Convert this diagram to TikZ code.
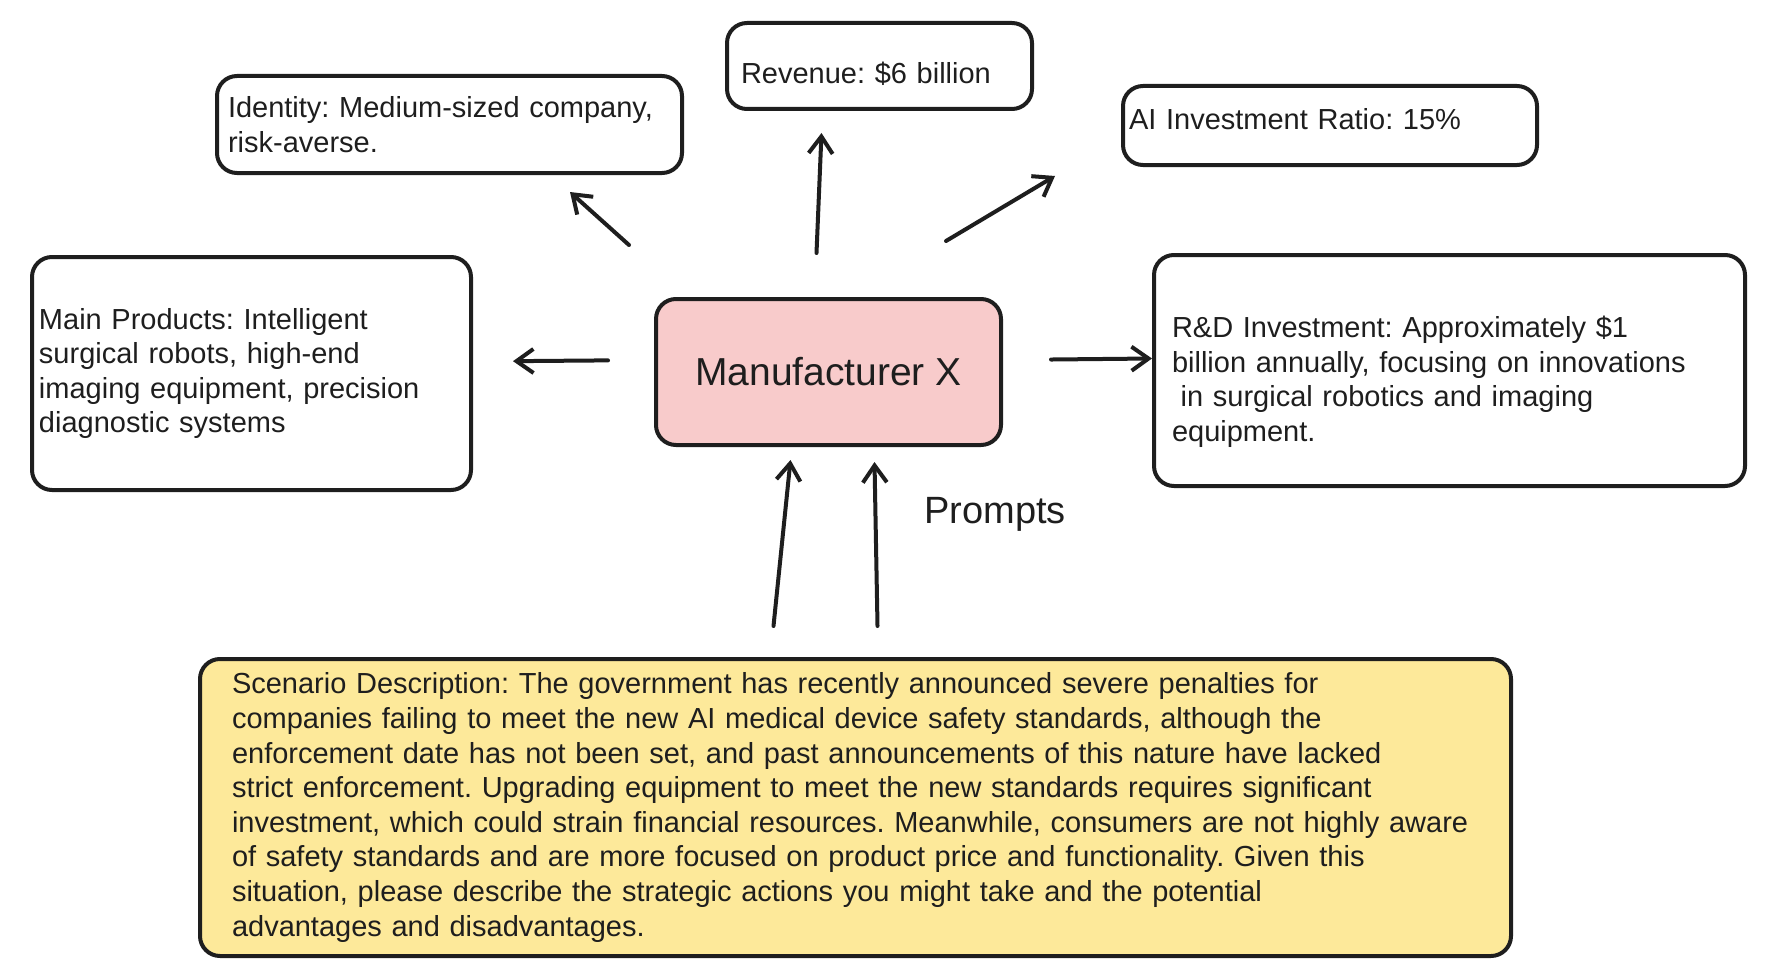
\documentclass[tikz,border=0pt]{standalone}
\usepackage{fontspec}
\setmainfont{Liberation Sans}
\usetikzlibrary{arrows.meta, positioning}
\definecolor{inkgray}{HTML}{1E1E1E}
\definecolor{hubpink}{HTML}{F8CBCB}
\definecolor{scenefill}{HTML}{FDE99A}
\frenchspacing

\begin{document}
\begin{tikzpicture}[x=0.5pt, y=-0.5pt,
  card/.style={draw=inkgray, line width=2pt, rounded corners=10pt,
    align=left, text=inkgray, font=\fontsize{14.5}{17.3}\selectfont},
  hub/.style={card, fill=hubpink, align=center,
    font=\fontsize{19.5}{23}\selectfont},
  scene/.style={card, fill=scenefill},
  link/.style={draw=inkgray, line width=2pt, line cap=round,
    -{Straight Barb[length=8.5pt, width=12pt]}}]
  \useasboundingbox (0,0) rectangle (1788,963);
  \node[hub, minimum width=172.5pt, minimum height=73pt] (maker) at (828.5,372) {Manufacturer X};
  \node[card, minimum width=232.5pt, minimum height=48.5pt, inner xsep=5.5pt, text width=221.5pt] (identity) at (449.5,124.5)
    {Identity: Medium-sized company,\\risk-averse.};
  \node[card, minimum width=152.5pt, minimum height=43pt, inner xsep=7pt, text width=138.5pt,
    text height=21pt, text depth=3pt] (revenue) at (879.5,66)
    {Revenue: \$6 billion};
  \node[card, minimum width=207pt, minimum height=39.5pt, inner xsep=3pt, text width=201pt,
    text height=10.5pt, text depth=6.6pt] (ratio) at (1330,125.5)
    {AI Investment Ratio: 15\%};
  \node[card, minimum width=219.5pt, minimum height=116.5pt, inner xsep=3.5pt, text width=212.5pt] (products) at (251.5,373.5)
    {Main Products: Intelligent\\surgical robots, high-end\\imaging equipment, precision\\diagnostic systems};
  \node[card, minimum width=295.5pt, minimum height=115.5pt, inner xsep=9pt, text width=277.5pt] (rnd) at (1449.5,370.5)
    {\rule{0pt}{22pt}R\&D Investment: Approximately \$1\\billion annually, focusing on innovations\\\hspace*{0.3em}in surgical robotics and imaging\\equipment.};
  \node[scene, minimum width=655.5pt, minimum height=148.5pt, inner xsep=16pt, text width=623.5pt] (scenario) at (855.5,807.5)
    {Scenario Description: The government has recently announced severe penalties for\\
     companies failing to meet the new AI medical device safety standards, although the\\
     enforcement date has not been set, and past announcements of this nature have lacked\\
     strict enforcement. Upgrading equipment to meet the new standards requires significant\\
     investment, which could strain financial resources. Meanwhile, consumers are not highly aware\\
     of safety standards and are more focused on product price and functionality. Given this\\
     situation, please describe the strategic actions you might take and the potential\\
     advantages and disadvantages.};
  \node[text=inkgray, font=\fontsize{19}{22}\selectfont] (prompts) at (995,514) {Prompts};
  \draw[link] ([yshift=6pt]maker.west) -- ([yshift=6pt]products.east)
    [shorten <=23pt, shorten >=20pt];
  \draw[link, shorten <=24pt] ([yshift=6pt]maker.east) -- ([yshift=6pt]rnd.west);
  \draw[link] ([xshift=-12.5pt, yshift=26pt]maker.north west) -- ([xshift=-57pt, yshift=-8.5pt]identity.south east);
  \draw[link] ([xshift=-6pt, yshift=22pt]maker.north) -- ([xshift=-29pt, yshift=-11pt]revenue.south);
  \draw[link] ([xshift=-28.5pt, yshift=28pt]maker.north east) -- ([xshift=-33pt, yshift=-4.5pt]ratio.south west);
  \draw[link] ([xshift=-41pt, yshift=15.5pt]scenario.north) -- ([xshift=-19pt, yshift=-6.5pt]maker.south);
  \draw[link] ([xshift=11pt, yshift=15.5pt]scenario.north) -- ([xshift=23pt, yshift=-7.5pt]maker.south);
\end{tikzpicture}
\end{document}
